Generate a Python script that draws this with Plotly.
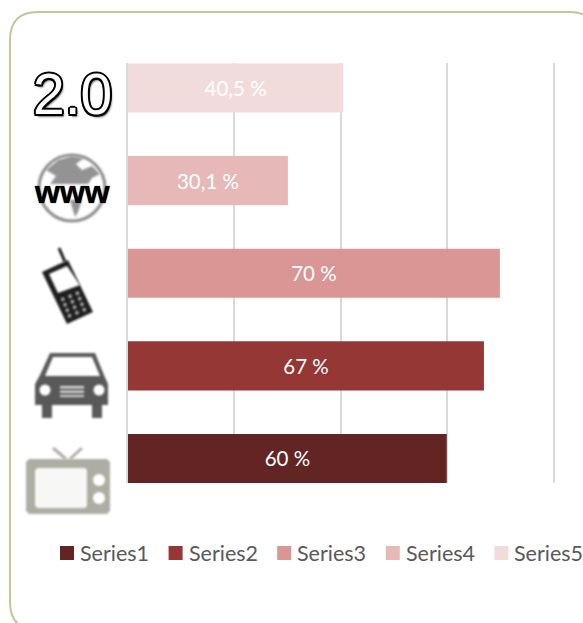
import plotly.graph_objects as go

# values, bottom bar first
categories = ["TV", "Car", "Mobile", "Web", "Web 2.0"]
series_names = ["Series1", "Series2", "Series3", "Series4", "Series5"]
values = [60, 67, 70, 30.1, 40.5]
value_labels = ["60 %", "67 %", "70 %", "30,1 %", "40,5 %"]
colors = ["#632523", "#953735", "#d99694", "#e6b9b8", "#f2dcdb"]
tick_values = [0, 20, 40, 60, 80]

W, H = 583, 623
PLOT_L, PLOT_R, PLOT_T, PLOT_B = 128, 553, 63, 483


def px(x):
    return (x - PLOT_L) / (PLOT_R - PLOT_L)


def py(y):
    return 1 - (y - PLOT_T) / (PLOT_B - PLOT_T)


def poly(points):
    return "M" + " L".join(f"{px(x):.4f},{py(y):.4f}" for x, y in points) + " Z"


def fill_shape(path, color):
    return dict(type="path", xref="paper", yref="paper", path=path,
                fillcolor=color, line=dict(width=0), layer="above")


def circle(cx, cy, r, fill, line_color=None, line_width=0):
    return dict(type="circle", xref="paper", yref="paper",
                x0=px(cx - r), x1=px(cx + r), y0=py(cy + r), y1=py(cy - r),
                fillcolor=fill, layer="above",
                line=dict(color=line_color or fill, width=line_width))


def seg(x0, y0, x1, y1, color, width):
    return dict(type="line", xref="paper", yref="paper",
                x0=px(x0), x1=px(x1), y0=py(y0), y1=py(y1),
                line=dict(color=color, width=width), layer="above")


def rect(x0, y0, x1, y1, color):
    return fill_shape(poly([(x0, y0), (x1, y0), (x1, y1), (x0, y1)]), color)


fig = go.Figure()
for name, cat, val, lab, col in zip(series_names, categories, values, value_labels, colors):
    fig.add_trace(go.Bar(
        x=[val], y=[cat], name=name, orientation="h", width=0.53,
        marker=dict(color=col, line=dict(width=0)),
        text=[lab], textposition="inside", insidetextanchor="middle",
        textangle=0, constraintext="none",
        textfont=dict(family="Lato", size=20.5, color="white"),
    ))

shapes = []

# card border
frame = (f"M{px(10)},{py(602)} L{px(10)},{py(40)} Q{px(10)},{py(12)} {px(38)},{py(12)} "
         f"L{px(570)},{py(12)} Q{px(595)},{py(12)} {px(595)},{py(37)} "
         f"L{px(595)},{py(630)} L{px(38)},{py(630)} Q{px(10)},{py(630)} {px(10)},{py(602)}")
shapes.append(dict(type="path", xref="paper", yref="paper", path=frame, layer="below",
                   line=dict(color="#c9c39b", width=2)))

# globe
shapes.append(circle(72, 188, 33, "white", "#8c8c8c", 3))
shapes.append(fill_shape(poly([(46, 170), (58, 160), (72, 156), (84, 158), (76, 164), (82, 170),
                               (92, 166), (100, 174), (92, 178), (88, 184), (50, 184), (56, 176)]), "#939393"))
shapes.append(fill_shape(poly([(70, 200), (82, 200), (78, 212), (75, 217)]), "#939393"))

# phone
shapes.append(seg(59, 248, 65, 262, "#1a1a1a", 3))
shapes.append(fill_shape(poly([(42, 272), (68, 260), (93, 312), (67, 324)]), "#1f1f1f"))
shapes.append(fill_shape(poly([(49, 274), (67, 266), (80, 285), (58, 293)]), "white"))
a, b, c, d = (58, 298), (80, 289), (90, 310), (67, 320)
for row in range(4):
    for col in range(3):
        u, v = (col + 0.5) / 3, (row + 0.5) / 4
        kx = a[0] + (b[0] - a[0]) * u + (d[0] - a[0]) * v
        ky = a[1] + (b[1] - a[1]) * u + (d[1] - a[1]) * v
        shapes.append(circle(kx, ky, 1.9, "#a8a8a8"))

# car
CAR = "#595959"
shapes.append(fill_shape(poly([(50, 353), (95, 353), (104, 375), (108, 384), (108, 405),
                               (102, 405), (102, 418), (92, 418), (92, 405), (52, 405),
                               (52, 418), (42, 418), (42, 405), (35, 405), (35, 384), (40, 375)]), CAR))
shapes.append(fill_shape(poly([(53, 357), (92, 357), (100, 376), (45, 376)]), "white"))
shapes.append(circle(45, 390, 5.5, "white"))
shapes.append(circle(99, 390, 5.5, "white"))
shapes.append(rect(60, 386, 84, 388.5, "#d9d9d9"))
shapes.append(rect(60, 390.5, 84, 393, "#d9d9d9"))
shapes.append(rect(60, 395, 84, 397, "#d9d9d9"))

# tv
TV = "#aeada3"
shapes.append(seg(53, 448, 66, 459, TV, 3))
shapes.append(seg(82, 448, 70, 459, TV, 3))
shapes.append(fill_shape(poly([(29, 459), (107, 459), (110, 462), (110, 511), (107, 514),
                               (29, 514), (26, 511), (26, 462)]), TV))
shapes.append(fill_shape(poly([(38, 468), (85, 468), (87, 470), (87, 506), (85, 508),
                               (38, 508), (35, 506), (35, 470)]), "#f7f7f5"))
shapes.append(circle(99, 480, 6, "white"))
shapes.append(circle(99, 498, 6, "white"))

outline = ",".join(f"{dx}px {dy}px 0.4px #000" for dx, dy in
                   [(2, 0), (-2, 0), (0, 2), (0, -2), (1.5, 1.5), (-1.5, 1.5), (1.5, -1.5), (-1.5, -1.5)])
outline += ",2px 3px 2px #777"

annotations = [
    dict(text="2.0", x=px(72), y=py(94), xref="paper", yref="paper", showarrow=False,
         xanchor="center", yanchor="middle",
         font=dict(family="Liberation Sans", size=57, color="white", shadow=outline)),
    dict(text="<b>www</b>", x=px(72), y=py(192), xref="paper", yref="paper", showarrow=False,
         xanchor="center", yanchor="middle",
         font=dict(family="Liberation Sans", size=32, color="black", shadow="0 0 1px #000")),
]

# legend row under the chart
LEGEND_X, LEGEND_Y, LEGEND_STEP = 60, 553, 108.6
for i, (name, col) in enumerate(zip(series_names, colors)):
    lx = LEGEND_X + i * LEGEND_STEP
    swatch = rect(lx, LEGEND_Y - 7, lx + 14, LEGEND_Y + 7, col)
    swatch["layer"] = "below"
    shapes.append(swatch)
    annotations.append(dict(text=name, x=px(lx + 20), y=py(LEGEND_Y), xref="paper", yref="paper",
                            showarrow=False, xanchor="left", yanchor="middle", borderpad=0, borderwidth=0,
                            font=dict(family="Lato", size=21.5, color="#595959")))

fig.update_layout(
    width=W, height=H,
    margin=dict(l=PLOT_L, r=W - PLOT_R, t=PLOT_T, b=H - PLOT_B, pad=0, autoexpand=False),
    paper_bgcolor="white", plot_bgcolor="white",
    barmode="overlay", bargap=0.47,
    shapes=shapes, annotations=annotations,
    showlegend=False,
)
fig.update_xaxes(range=[0, 80], tickvals=tick_values, showticklabels=False, ticks="",
                 showgrid=True, gridcolor="#d9d9d9", gridwidth=2, zeroline=False, showline=False)
fig.update_yaxes(categoryorder="array", categoryarray=categories, range=[-0.265, 4.27],
                 showticklabels=False, ticks="", showgrid=False, zeroline=False,
                 showline=True, mirror=True, linecolor="#d9d9d9", linewidth=2)

# soften the icons, they are scaled bitmaps in the original
soften = ("document.body.style.margin='0';"
          "var s=document.createElement('style');"
          "s.textContent='.shapelayer path{filter:blur(1px)}"
          ".layer-below .shapelayer path{filter:none}';"
          "document.head.appendChild(s);")
fig.write_html("out.html", config={"displayModeBar": False}, post_script=soften)
